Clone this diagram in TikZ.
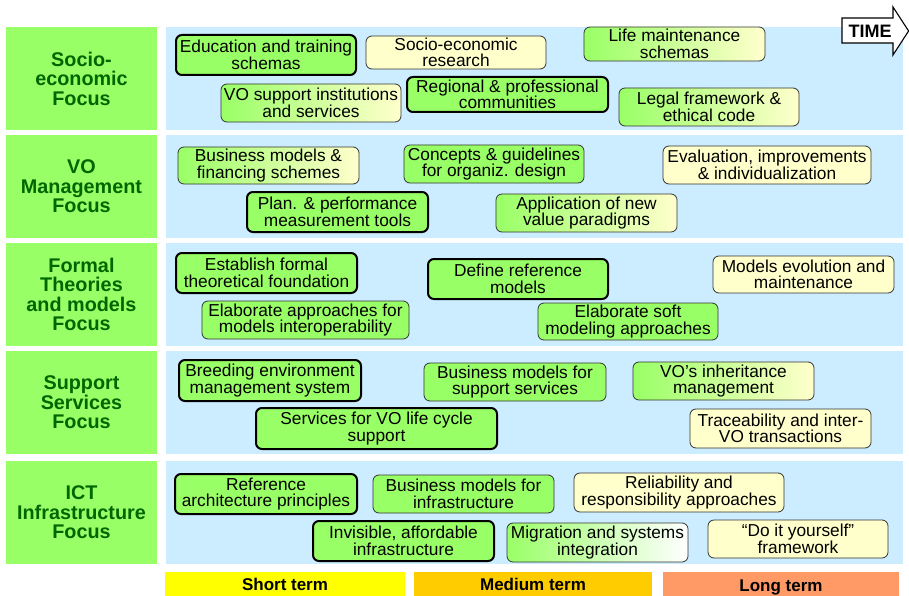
\documentclass[tikz,border=0pt]{standalone}
\usepackage{fontspec}
\setmainfont{Liberation Sans}
\definecolor{focusgreen}{RGB}{153,255,102}
\definecolor{focustext}{RGB}{0,102,0}
\definecolor{lanebg}{RGB}{204,236,255}
\definecolor{paleyellow}{RGB}{255,255,204}
\definecolor{shortc}{RGB}{255,255,0}
\definecolor{mediumc}{RGB}{255,204,0}
\definecolor{longc}{RGB}{255,153,102}
\tikzset{
  focus/.style={fill=focusgreen, draw=none, inner sep=0pt, align=center,
    text=focustext, font=\fontsize{19.8}{19.5}\selectfont\bfseries},
  lane/.style={fill=lanebg, draw=none, inner sep=0pt},
  item/.style={rounded corners=6pt, align=center, inner sep=0pt,
    font=\fontsize{17.3}{16.6}\selectfont},
  heavy/.style={item, draw=black, line width=2pt},
  light/.style={item, draw=black!80, line width=0.8pt},
  gr/.style={fill=focusgreen},
  ye/.style={fill=paleyellow},
  gy/.style={left color=focusgreen, right color=paleyellow},
  gw/.style={left color=focusgreen, right color=white},
  sz/.style 2 args={minimum width=#1pt, minimum height=#2pt},
  term/.style={draw=none, inner sep=0pt, font=\fontsize{17}{17}\selectfont\bfseries}
}
\begin{document}
\begin{tikzpicture}[x=1pt, y=-1pt]
\useasboundingbox (0,0) rectangle (909,596);

% focus labels and time lanes
\foreach \t/\nm in {27/r1, 135/r2, 243/r3, 351/r4, 461/r5}{
  \node[lane, sz={737}{103}] (lane\nm) at (534.5,\t+51.5) {};
}
\node[focus, sz={151}{103}] (f1) at (81.5,78.5) {Socio-\\economic\\Focus};
\node[focus, sz={151}{103}] (f2) at (81.5,186.5) {VO\\Management\\Focus};
\node[focus, sz={151}{103}] (f3) at (81.5,294.5) {Formal\\Theories\\and models\\Focus};
\node[focus, sz={151}{103}] (f4) at (81.5,402.5) {Support\\Services\\Focus};
\node[focus, sz={151}{103}] (f5) at (81.5,512.5) {ICT\\Infrastructure\\Focus};

% socio-economic
\node[heavy, gr, sz={180}{40}] (edu) at (266,55) {Education and training\\schemas};
\node[light, ye, sz={180}{33}] (ser) at (456,52.5) {Socio-economic\\research};
\node[light, gy, sz={180}{38}] (vos) at (311,103) {VO support institutions\\and services};
\node[heavy, gr, sz={201}{35}] (reg) at (507.5,94.5) {Regional \& professional\\communities};
\node[light, gy, sz={181}{34}] (lms) at (674.5,44) {Life maintenance\\schemas};
\node[light, gy, sz={180}{38}] (leg) at (709,107) {Legal framework \&\\ethical code};

% VO management
\node[light, gy, sz={181}{37}] (bmf) at (268.5,165.5) {Business models \&\\financing schemes};
\node[heavy, gr, sz={181}{40}] (plan) at (337.5,212) {Plan. \& performance\\measurement tools};
\node[light, gr, sz={180}{38}] (con) at (494,164) {Concepts \& guidelines\\for organiz. design};
\node[light, ye, sz={208}{38}] (eva) at (767,165) {Evaluation, improvements\\\& individualization};
\node[light, gy, sz={181}{38}] (app) at (586.5,213) {Application of new\\value paradigms};

% formal theories and models
\node[heavy, gr, sz={181}{40}] (est) at (266.5,273) {Establish formal\\theoretical foundation};
\node[light, gr, sz={207}{38}] (ela) at (305.5,320) {Elaborate approaches for\\models interoperability};
\node[heavy, gr, sz={180}{40}] (def) at (518,279) {Define reference\\models};
\node[light, gr, sz={180}{37}] (sof) at (628,321.5) {Elaborate soft\\modeling approaches};
\node[light, ye, sz={181}{37}] (mev) at (803.5,274.5) {Models evolution and\\maintenance};

% support services
\node[heavy, gr, sz={182}{41}] (bre) at (270,380.5) {Breeding environment\\management system};
\node[heavy, gr, sz={241}{41}] (svc) at (376.5,428.5) {Services for VO life cycle\\support};
\node[light, gr, sz={182}{38}] (bms) at (515,382) {Business models for\\support services};
\node[light, gy, sz={181}{38}] (inh) at (723.5,381) {VO’s inheritance\\management};
\node[light, ye, sz={181}{39}] (tra) at (780.5,428.5) {Traceability and inter-\\VO transactions};

% ICT infrastructure
\node[heavy, gr, sz={182}{40}] (rap) at (266,494) {Reference\\architecture principles};
\node[light, gr, sz={181}{38}] (bmi) at (463.5,494) {Business models for\\infrastructure};
\node[heavy, gr, sz={181}{40}] (inv) at (403.5,541) {Invisible, affordable\\infrastructure};
\node[light, gw, sz={181}{39}] (mig) at (597.5,542.5) {Migration and systems\\integration};
\node[light, ye, sz={210}{39}] (rel) at (679,492.5) {Reliability and\\responsibility approaches};
\node[light, ye, sz={180}{38}] (diy) at (798,539) {“Do it yourself”\\framework};

% time horizon bars
\node[term, fill=shortc, sz={240}{24}] (short) at (285,584) {Short term};
\node[term, fill=mediumc, sz={238}{24}] (medium) at (533,584) {Medium term};
\node[term, fill=longc, sz={236}{24}, text height=17pt, text depth=2pt] (long) at (781,584) {Long term};

% time arrow
\draw[fill=white, draw=black, line width=1.1pt, line join=miter]
  (842,18) -- (893,18) -- (893,7) -- (908.6,31) -- (893,55) -- (893,43) -- (842,43) -- cycle;
\node[font=\fontsize{18}{18}\selectfont\bfseries, inner sep=0pt] (time) at (870,31) {TIME};
\end{tikzpicture}
\end{document}
